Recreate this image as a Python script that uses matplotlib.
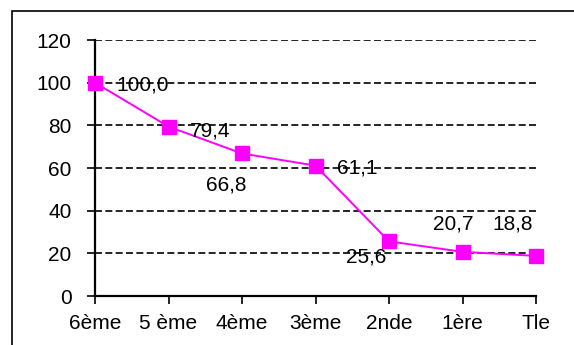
import matplotlib.pyplot as plt
from matplotlib.patches import Rectangle

plt.rcParams['font.family'] = ['Liberation Sans', 'DejaVu Sans']

classes = ["6ème", "5 ème", "4ème", "3ème", "2nde", "1ère", "Tle"]
values = [100.0, 79.4, 66.8, 61.1, 25.6, 20.7, 18.8]
labels = ["100,0", "79,4", "66,8", "61,1", "25,6", "20,7", "18,8"]
# label offsets (points) relative to each marker
offsets = [(34, -1.5), (30, -3), (-11.5, -23), (30, -2), (-16.5, -11.5), (-6.5, 20), (-17, 23)]
yticks = [0, 20, 40, 60, 80, 100, 120]

fig = plt.figure(figsize=(5.74, 3.45), dpi=100)
ax = fig.add_axes([95 / 574, 1 - 296 / 345, 441 / 574, 256 / 345])

x = list(range(len(classes)))
ax.plot(x, values, color="#ff00ff", lw=1.4, marker="s", markersize=10,
        markeredgecolor="#ff00ff", clip_on=False, zorder=3)

for xi, v, lab, (dx, dy) in zip(x, values, labels, offsets):
    ax.annotate(lab, (xi, v), xytext=(dx, dy), textcoords="offset points",
                ha="center", va="center", fontsize=15, zorder=4)

ax.set_xlim(0, len(classes) - 1)
ax.set_ylim(0, 120)
ax.set_xticks(x)
ax.set_xticklabels(classes)
ax.set_yticks(yticks)

for t in yticks[1:]:
    ax.axhline(t, color="black", lw=1.2, ls=(0, (4.2, 2)), zorder=1)

for s in ["top", "right"]:
    ax.spines[s].set_visible(False)
for s in ["left", "bottom"]:
    ax.spines[s].set_linewidth(1.6)

ax.tick_params(axis="y", direction="out", length=6, width=1.2, pad=11, labelsize=15)
ax.tick_params(axis="x", direction="out", length=6, width=1.2, pad=7, labelsize=15)

fig.patches.append(Rectangle((12 / 574, -0.1), 1.2, 1.1 - 11 / 345,
                             transform=fig.transFigure, fill=False,
                             edgecolor="black", lw=1.2))

fig.savefig("out.png", dpi=100)
